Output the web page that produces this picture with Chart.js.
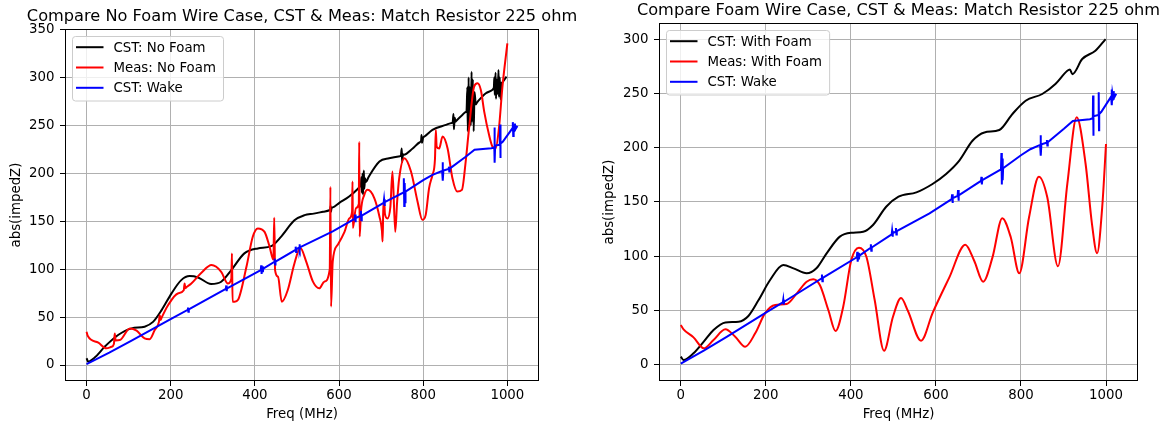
<!DOCTYPE html>
<html>
<head>
<meta charset="utf-8">
<script src="https://cdn.jsdelivr.net/npm/chart.js@4.4.1/dist/chart.umd.min.js"></script>
<style>
  body { margin: 0; background: #fff; }
  .panel { position: absolute; top: 0; height: 425px; }
  #left-panel { left: 0; width: 585px; }
  #right-panel { left: 585px; width: 582px; }
</style>
</head>
<body>
<div class="panel" id="left-panel"><canvas id="chart-no-foam"></canvas></div>
<div class="panel" id="right-panel"><canvas id="chart-foam"></canvas></div>
<script>
// tick values
const xTicks = [0, 200, 400, 600, 800, 1000];
const noFoamYTicks = [0, 50, 100, 150, 200, 250, 300, 350];
const foamYTicks = [0, 50, 100, 150, 200, 250, 300];

// CST wake result (same in both plots)
const wakeFreq = [0, 54, 107, 202, 240, 241, 242, 243, 331, 332, 333, 334, 414, 415, 416, 418, 419, 420,
    446, 447, 448, 449, 496, 497, 498, 499, 505, 506, 507, 508, 585, 637, 638, 639, 640, 651, 652, 653, 654,
    706, 707, 708, 709, 753, 754, 755, 756, 757, 758, 800, 822, 845, 846, 847, 848, 860, 861, 862, 863,
    901, 922, 962, 969, 969.5, 970, 971, 982, 982.8, 983.5, 984, 989, 1012, 1013, 1014, 1015, 1017, 1018, 1019, 1024];
const wakeZ = [1, 13, 25.5, 48.5, 57.5, 60, 55.5, 58, 79.5, 83, 77, 80, 99, 104, 95, 103, 97, 100.5,
    107.5, 111, 105, 108, 120, 123.5, 118, 121, 122.5, 126, 120, 123, 139.5, 152.5, 157, 149, 153.5, 155.5, 161, 151, 156,
    169.3, 173, 166, 170, 180, 195, 166, 190, 170, 181, 193, 198.5, 202.5, 211.5, 192.5, 203, 204.5, 207, 202, 205,
    217.3, 224.6, 226.2, 227, 248, 211, 229, 230, 251, 216, 231, 233, 247, 253.5, 239, 250, 245, 252, 246, 249.6];

// no foam case
const noFoamCstFreq = [0, 4, 20, 43, 75, 107, 138, 158, 178, 202, 225, 245, 265, 296, 320, 344, 375, 407, 439, 462,
    494, 518, 540, 562, 577, 579, 580, 581, 582, 585, 600, 624, 645, 649, 652, 653, 654, 656, 657, 659,
    660, 662, 664, 670, 696, 719, 745, 747, 749, 750, 752, 754, 775, 792, 795, 796, 797, 800, 803, 822,
    854, 868, 870, 872, 873, 875, 877, 880, 893, 901, 903, 905, 906, 908, 909, 911, 913, 915, 916, 918,
    920, 922, 925, 928, 933, 949, 964, 966, 968, 969, 970, 972, 973, 975, 977, 979, 980, 982, 984, 986,
    988, 990, 998];
const noFoamCstZ = [7, 3.5, 8, 19, 31.3, 38.2, 40, 45, 57, 74.8, 88.6, 92.8, 91.4, 84.5, 86.9, 99, 116.5, 121.7, 124, 133.8,
    151, 156.4, 158, 160, 161.5, 162.5, 166, 160, 163.7, 164.5, 169, 175.9, 184, 186, 188, 196, 180, 200, 178, 203,
    184, 195, 191, 196, 212.4, 215.8, 218, 218.5, 226, 212, 220, 219.5, 226, 232.5, 234, 240, 232, 237.5, 238.5, 245.4,
    250.6, 252.7, 253, 262, 246, 258, 254, 255.5, 261, 264, 265, 290, 244, 300, 248, 290, 250, 306, 254, 298,
    244, 285, 272, 274, 276.7, 283.6, 287, 288, 290, 300, 282, 305, 278, 298, 283, 308, 280, 300, 277, 294,
    295, 296, 301];

const noFoamMeasFreq = [0, 3, 28, 47, 59, 65, 67, 69, 79, 103, 119, 138, 150, 162, 172, 174, 176, 178, 194, 217,
    231, 233, 235, 237, 249, 273, 297, 320, 336, 344, 345.5, 347, 352, 360, 380, 395, 407, 423, 435, 444,
    446, 448, 455, 464, 478, 494, 508, 522, 538, 553, 565, 578, 579.5, 581, 585, 597, 613, 624.5, 631, 632,
    633, 640, 647, 648, 649, 652, 660, 668, 684, 696, 702, 703.5, 705, 707.5, 709, 715, 722, 727, 733.6, 738,
    743, 755, 771, 786.5, 798, 806, 814, 822, 828, 830, 832, 838, 846, 858, 869.5, 881, 892, 901, 909, 921,
    929, 937, 945, 956.6, 964.5, 972, 980, 988, 1000];
const noFoamMeasZ = [34.7, 30.2, 23.3, 17.4, 19, 22, 33, 25.7, 26, 38.2, 35.8, 27.8, 27, 36.5, 45, 52, 47, 49, 62.6, 74.7,
    78, 85, 80, 81, 85, 96.3, 104.3, 97.3, 85, 90, 116.5, 66, 66, 68, 102.5, 133.8, 142.5, 139, 123.4, 110,
    153.6, 99, 92, 66, 78, 106, 122, 108, 87, 80, 87, 100, 186, 61, 108, 125.5, 139, 153, 160, 191.5,
    143, 163.7, 168, 233, 134, 160, 177.6, 182.8, 174, 155, 140, 129, 160, 170.7, 158, 153, 165, 202, 139, 170,
    195, 215.8, 202, 170.7, 151.5, 156.7, 184.6, 198.4, 215, 245.4, 228, 226, 238.5, 226, 195, 181, 182.8, 212.4, 247, 290.6,
    294, 287, 264.5, 240, 228, 226, 247, 289, 335.8];

// with foam case
const foamCstFreq = [0, 6.5, 30, 54, 77, 105, 136, 159, 183, 210, 241, 265, 296, 319, 343, 374, 401, 429, 452, 483,
    512, 554, 592, 624, 655, 686, 714, 749, 780, 811, 850, 881, 909, 915, 921, 944, 975, 999];
const foamCstZ = [7.4, 4.3, 10.5, 21.2, 32, 39, 39.6, 44.9, 59.6, 78, 91.8, 88.8, 84.2, 88.8, 102.6, 118, 121.6, 122.5, 128.7, 145.5,
    154.8, 158.8, 166.5, 175.7, 188, 206.3, 214, 216.2, 231, 243.2, 249.4, 258.6, 270.8, 272, 267.7, 281.6, 289.3, 300];

const foamMeasFreq = [0, 6.5, 30, 54, 77, 105, 128, 151.5, 175, 198, 222, 249, 273, 296, 311.5, 327, 347, 364, 382, 401,
    419, 436.5, 456, 478, 499, 518, 534, 565, 592.5, 631.6, 669, 690, 711, 733, 756, 776, 796, 819, 842, 862,
    887, 909, 931, 952, 967, 979, 991, 1000];
const foamMeasZ = [36.6, 32.6, 25.2, 15.1, 22.8, 32.6, 25.8, 16.6, 28.9, 47.3, 55, 55.9, 65.8, 76.5, 78.7, 73.4, 50.4, 31, 53.4, 96.4,
    107.8, 99.5, 59.6, 12.9, 44.2, 61.5, 49.7, 22.1, 48, 80.5, 110.5, 95.8, 76.5, 98.9, 135, 117.4, 84.2, 135.8, 173.2, 154,
    90.6, 166.5, 227.9, 184.9, 129.6, 102.6, 145, 203.3];

const FONT = 'DejaVu Sans';
const FS = 13.33;
Chart.defaults.font.family = FONT;
Chart.defaults.color = '#000';

// matplotlib-like frame, title and legend
const mplDecor = {
    id: 'mplDecor',
    afterDraw(chart, args, opts) {
        const ctx = chart.ctx;
        const a = chart.chartArea;
        ctx.save();
        const l = Math.round(a.left) + 0.5, t = Math.round(a.top) + 0.5;
        const r = Math.round(a.right) - 0.5, b = Math.round(a.bottom) - 0.5;
        ctx.strokeStyle = '#000';
        ctx.lineWidth = 1;
        ctx.strokeRect(l, t, r - l, b - t);

        ctx.fillStyle = '#000';
        ctx.font = '16.2px "' + FONT + '"';
        ctx.textAlign = 'center';
        ctx.textBaseline = 'alphabetic';
        ctx.fillText(opts.title, (a.left + a.right) / 2, a.top - 8);

        // legend box
        ctx.font = FS + 'px "' + FONT + '"';
        const sets = chart.data.datasets;
        let maxW = 0;
        sets.forEach(ds => { maxW = Math.max(maxW, ctx.measureText(ds.label).width); });
        const x0 = a.left + 6.5, y0 = a.top + 6.5;
        const w = 42 + maxW + 6.6, h = 64.5;
        ctx.beginPath();
        ctx.roundRect(Math.round(x0) + 0.5, Math.round(y0) + 0.5, w, h, 3);
        ctx.fillStyle = 'rgba(255,255,255,0.8)';
        ctx.fill();
        ctx.strokeStyle = '#cccccc';
        ctx.stroke();
        ctx.textAlign = 'left';
        ctx.textBaseline = 'middle';
        sets.forEach((ds, i) => {
            const cy = y0 + 11.7 + i * 20.3;
            ctx.beginPath();
            ctx.moveTo(x0 + 4.5, cy);
            ctx.lineTo(x0 + 32, cy);
            ctx.strokeStyle = ds.borderColor;
            ctx.lineWidth = 2;
            ctx.stroke();
            ctx.fillStyle = '#000';
            ctx.fillText(ds.label, x0 + 42, cy + 1);
        });
        ctx.restore();
    }
};

function series(label, freq, z, color, order, smooth) {
    return {
        label: label,
        data: freq.map((f, i) => ({x: f, y: z[i]})),
        borderColor: color,
        borderWidth: 2,
        pointRadius: 0,
        fill: false,
        cubicInterpolationMode: smooth ? 'monotone' : 'default',
        tension: 0,
        order: order
    };
}

function drawPanel(canvas, cfg) {
    return new Chart(canvas.getContext('2d'), {
        type: 'line',
        data: {
            datasets: [
                series(cfg.cstLabel, cfg.cstFreq, cfg.cstZ, '#000000', 3, true),
                series(cfg.measLabel, cfg.measFreq, cfg.measZ, '#ff0000', 2, true),
                series('CST: Wake', wakeFreq, wakeZ, '#0000ff', 1, false)
            ]
        },
        options: {
            animation: false,
            responsive: true,
            maintainAspectRatio: false,
            layout: { padding: cfg.padding },
            events: [],
            plugins: {
                legend: { display: false },
                tooltip: { enabled: false },
                mplDecor: { title: cfg.title }
            },
            scales: {
                x: {
                    type: 'linear',
                    min: -51.2,
                    max: 1075.2,
                    afterBuildTicks: s => { s.ticks = xTicks.map(v => ({value: v})); },
                    afterFit: s => { s.height = 44; },
                    ticks: { font: { size: FS }, padding: 2, maxRotation: 0, callback: v => String(v) },
                    grid: { color: '#b0b0b0', lineWidth: 1, tickLength: 5, tickColor: '#000' },
                    border: { display: false },
                    title: { display: true, text: 'Freq (MHz)', font: { size: FS }, padding: { top: 0, bottom: 2.5 } }
                },
                y: {
                    type: 'linear',
                    min: cfg.yMin,
                    max: cfg.yMax,
                    afterBuildTicks: s => { s.ticks = cfg.yTicks.map(v => ({value: v})); },
                    afterFit: s => { s.width = cfg.yAxisWidth; },
                    ticks: { font: { size: FS }, padding: 5.5, callback: v => String(v) },
                    grid: { color: '#b0b0b0', lineWidth: 1, tickLength: 5, tickColor: '#000' },
                    border: { display: false },
                    title: { display: true, text: 'abs(impedZ)', font: { size: FS }, padding: { top: cfg.yTitlePad, bottom: 0 } }
                }
            }
        },
        plugins: [mplDecor]
    });
}

drawPanel(document.getElementById('chart-no-foam'), {
    title: 'Compare No Foam Wire Case, CST & Meas: Match Resistor 225 ohm',
    cstLabel: 'CST: No Foam', cstFreq: noFoamCstFreq, cstZ: noFoamCstZ,
    measLabel: 'Meas: No Foam', measFreq: noFoamMeasFreq, measZ: noFoamMeasZ,
    yMin: -16.7, yMax: 350.7, yTicks: noFoamYTicks,
    yAxisWidth: 65, yTitlePad: 9,
    padding: { left: 0, right: 46, top: 29, bottom: 0 }
});

drawPanel(document.getElementById('chart-foam'), {
    title: 'Compare Foam Wire Case, CST & Meas: Match Resistor 225 ohm',
    cstLabel: 'CST: With Foam', cstFreq: foamCstFreq, cstZ: foamCstZ,
    measLabel: 'Meas: With Foam', measFreq: foamMeasFreq, measZ: foamMeasZ,
    yMin: -15, yMax: 314.8, yTicks: foamYTicks,
    yAxisWidth: 74, yTitlePad: 17,
    padding: { left: 0, right: 29, top: 23, bottom: 0 }
});
</script>
</body>
</html>
